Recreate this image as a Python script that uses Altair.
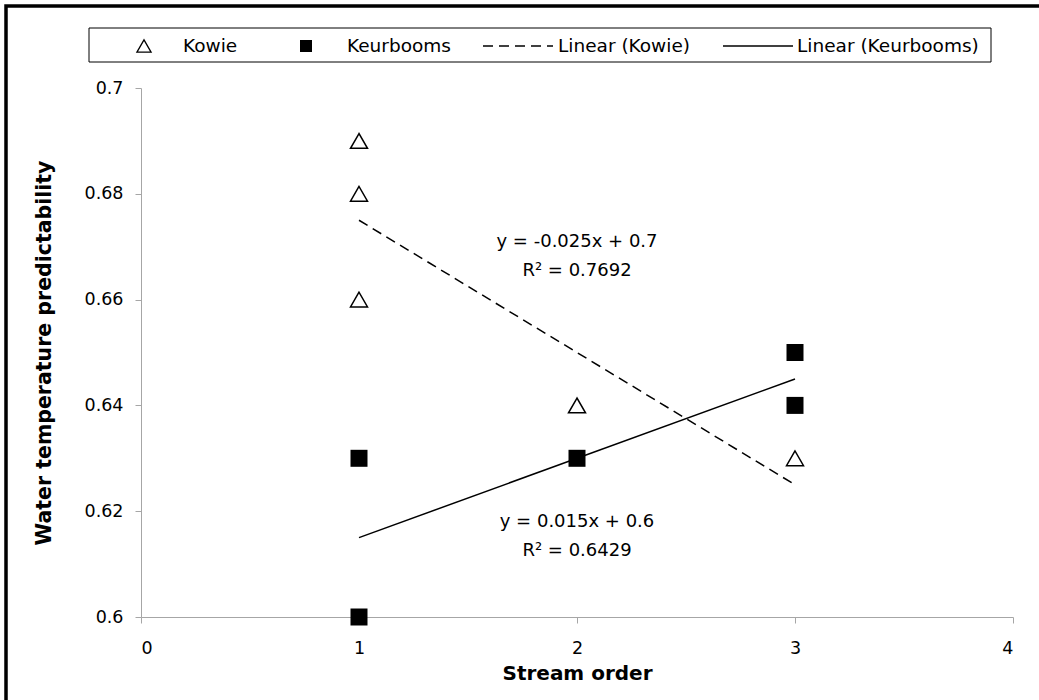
import altair as alt
import pandas as pd

# Water temperature predictability by stream order, two river systems
kowie_order = [1, 1, 1, 2, 3]
kowie_pred = [0.69, 0.68, 0.66, 0.64, 0.63]
keur_order = [1, 1, 2, 3, 3]
keur_pred = [0.63, 0.60, 0.63, 0.65, 0.64]

# Trend-line equations shown on the plot
eq_text = ["y = -0.025x + 0.7", "R² = 0.7692", "y = 0.015x + 0.6", "R² = 0.6429"]
eq_x = [2.0, 2.0, 2.0, 2.0]
eq_y = [0.6708, 0.6655, 0.6179, 0.6125]

x_ticks = [0, 1, 2, 3, 4]
y_ticks = [0.60, 0.62, 0.64, 0.66, 0.68, 0.70]

FONT = "DejaVu Sans"
AXIS_GREY = "#a6a6a6"

kowie = pd.DataFrame({"order": kowie_order, "pred": kowie_pred})
keur = pd.DataFrame({"order": keur_order, "pred": keur_pred})
eqs = pd.DataFrame({"text": eq_text, "order": eq_x, "pred": eq_y})

x_scale = alt.Scale(domain=[0, 4], nice=False, zero=False)
y_scale = alt.Scale(domain=[0.6, 0.7], nice=False, zero=False)

x_enc = alt.X(
    "order:Q", scale=x_scale,
    axis=alt.Axis(
        title="Stream order", values=x_ticks, format="d", grid=False,
        domainColor=AXIS_GREY, tickColor=AXIS_GREY, tickSize=6,
        labelFont=FONT, labelFontSize=17.5, labelColor="black",
        labelBaseline="alphabetic", labelPadding=30,
        titleFont=FONT, titleFontSize=20, titleFontWeight="bold", titleColor="black",
        titleBaseline="alphabetic", titleY=62,
    ),
)
y_enc = alt.Y(
    "pred:Q", scale=y_scale,
    axis=alt.Axis(
        title="Water temperature predictability", values=y_ticks, format=".2~f",
        grid=False, domainColor=AXIS_GREY, tickColor=AXIS_GREY, tickSize=6,
        labelFont=FONT, labelFontSize=17.5, labelColor="black", labelPadding=12,
        titleFont=FONT, titleFontSize=20.5, titleFontWeight="bold", titleColor="black",
        titleBaseline="alphabetic", titleX=-91,
    ),
)

kowie_pts = alt.Chart(kowie).mark_point(
    shape="triangle-up", size=289, filled=False, color="black", strokeWidth=1.5, opacity=1
).encode(x=x_enc, y=y_enc)

keur_pts = alt.Chart(keur).mark_point(
    shape="square", size=289, filled=True, color="black", opacity=1
).encode(x="order:Q", y="pred:Q")

kowie_fit = alt.Chart(kowie).transform_regression(
    "order", "pred", extent=[1, 3]
).mark_line(color="black", strokeWidth=1.5, strokeDash=[10, 6]).encode(
    x="order:Q", y="pred:Q"
)

keur_fit = alt.Chart(keur).transform_regression(
    "order", "pred", extent=[1, 3]
).mark_line(color="black", strokeWidth=1.5).encode(x="order:Q", y="pred:Q")

eq_labels = alt.Chart(eqs).mark_text(
    font=FONT, fontSize=18, color="black", align="center", baseline="middle"
).encode(x="order:Q", y="pred:Q", text="text:N")

# Frame and legend drawn in the padding around the plot
one = alt.Data(values=[{}])

frame = alt.Chart(one).mark_rect(
    fill="transparent", stroke="black", strokeWidth=3.5
).encode(x=alt.value(-135), x2=alt.value(920), y=alt.value(-82), y2=alt.value(640))

legend_box = alt.Chart(one).mark_rect(
    fill="white", stroke="black", strokeWidth=1
).encode(x=alt.value(-52), x2=alt.value(850), y=alt.value(-60), y2=alt.value(-26))

LEG_Y = -42
leg_tri = alt.Chart(one).mark_point(
    shape="triangle-up", size=200, filled=False, color="black", strokeWidth=1.3, opacity=1
).encode(x=alt.value(3), y=alt.value(LEG_Y))
leg_sq = alt.Chart(one).mark_point(
    shape="square", size=144, filled=True, color="black", opacity=1
).encode(x=alt.value(165), y=alt.value(LEG_Y))
leg_dash = alt.Chart(one).mark_rule(
    color="black", strokeWidth=1.5, strokeDash=[10, 6]
).encode(x=alt.value(342), x2=alt.value(412), y=alt.value(LEG_Y))
leg_solid = alt.Chart(one).mark_rule(color="black", strokeWidth=1.5).encode(
    x=alt.value(582), x2=alt.value(652), y=alt.value(LEG_Y)
)


def leg_label(txt, xpos):
    return alt.Chart(one).mark_text(
        text=txt, font=FONT, fontSize=18.5, color="black", align="left", baseline="middle"
    ).encode(x=alt.value(xpos), y=alt.value(LEG_Y))


chart = alt.layer(
    frame,
    legend_box,
    leg_tri, leg_sq, leg_dash, leg_solid,
    leg_label("Kowie", 42),
    leg_label("Keurbooms", 206),
    leg_label("Linear (Kowie)", 417),
    leg_label("Linear (Keurbooms)", 656),
    kowie_fit, keur_fit,
    kowie_pts, keur_pts,
    eq_labels,
).properties(
    width=872,
    height=529,
    autosize=alt.AutoSizeParams(type="none"),
    padding={"left": 141, "top": 88, "right": 26, "bottom": 83},
    background="white",
).configure_view(stroke=None)

chart.save("out.html", embed_options={"renderer": "svg", "actions": False})
